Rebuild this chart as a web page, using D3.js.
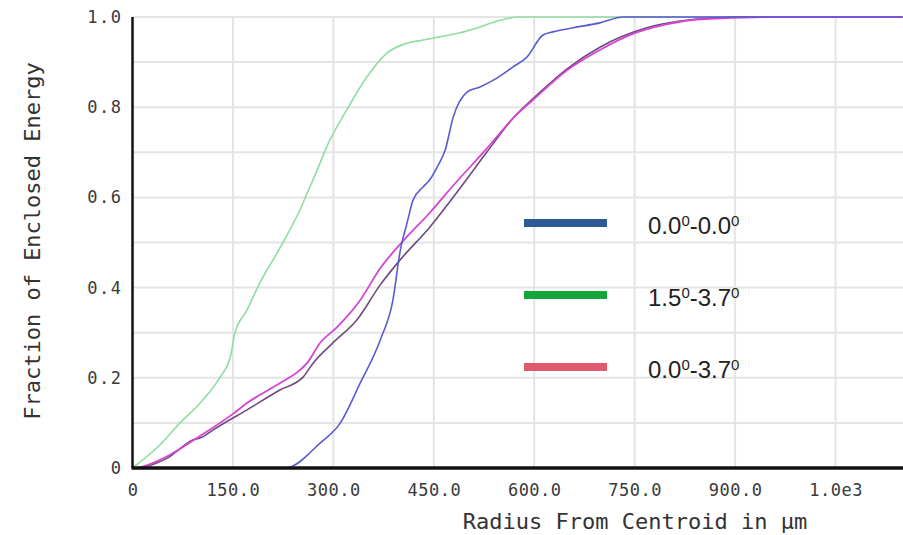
<!DOCTYPE html>
<html>
<head>
<meta charset="utf-8">
<script src="https://cdn.jsdelivr.net/npm/d3@7"></script>
<style>
  body { margin: 0; background: #fff; }
  .tick text { font-family: "DejaVu Sans Mono", monospace; fill: #3a3a3a; }
  .axis-title { font-family: "DejaVu Sans Mono", monospace; fill: #333; font-size: 22px; }
  .legend-text { font-family: "Liberation Sans", Arial, sans-serif; fill: #222; }
</style>
</head>
<body>
<div id="plot-area"></div>
<script>
// tick values / labels
var xTicks = [0, 150, 300, 450, 600, 750, 900, 1050]
var xTickLabels = ["0", "150.0", "300.0", "450.0", "600.0", "750.0", "900.0", "1.0e3"]
var yTicks = [0, 0.2, 0.4, 0.6, 0.8, 1.0]
var yTickLabels = ["0", "0.2", "0.4", "0.6", "0.8", "1.0"]

// curves: [radius, fraction]
var greenCurve = [[0,0],[40,0.05],[71,0.1],[101,0.144],[131,0.202],[146,0.246],[153,0.299],[171,0.35],
  [190,0.41],[216,0.477],[235,0.528],[250,0.572],[261,0.61],[276,0.661],[290,0.712],[320,0.794],
  [350,0.867],[380,0.92],[410,0.942],[434,0.949],[459,0.956],[489,0.965],[519,0.978],[549,0.993],
  [579,1.0],[1150,1.0]]
var blueCurve = [[0,0],[228,0],[235,0.002],[280,0.055],[310,0.099],[340,0.188],[370,0.284],[389,0.373],
  [400,0.483],[410,0.543],[419,0.594],[434,0.623],[444,0.639],[455,0.667],[467,0.705],[479,0.778],
  [500,0.834],[519,0.845],[539,0.86],[568,0.889],[589,0.911],[613,0.96],[628,0.967],[658,0.976],
  [698,0.987],[733,1.0],[1150,1.0]]
var magentaCurve = [[5,0],[15,0.003],[52,0.026],[101,0.071],[150,0.12],[171,0.144],[220,0.188],
  [250,0.217],[261,0.233],[280,0.277],[306,0.313],[340,0.372],[370,0.443],[404,0.503],[444,0.566],
  [480,0.628],[529,0.708],[568,0.775],[598,0.816],[649,0.882],[698,0.927],[748,0.963],[792,0.982],
  [848,0.995],[960,1.0],[1150,1.0]]
var purpleCurve = [[15,0],[52,0.022],[90,0.062],[105,0.069],[120,0.084],[171,0.129],[220,0.173],
  [255,0.202],[270,0.233],[299,0.277],[335,0.328],[370,0.406],[400,0.462],[444,0.534],[490,0.622],
  [529,0.7],[568,0.775],[610,0.835],[649,0.885],[698,0.933],[768,0.976],[818,0.991],[907,1.0],[1150,1.0]]

var legendRanges = [["0.0", "0.0"], ["1.5", "3.7"], ["0.0", "3.7"]]
var legendColors = ["#2b5a96", "#14a63a", "#e05a6f"]

function createPlot() {

    width = 903
    height = 535

    plotSVG = d3.select("#plot-area").append('svg')
        .attr('width', width)
        .attr('height', height)

    xScale = d3.scaleLinear()
        .domain([0, 1150])
        .range([132.5, 902.5])

    yScale = d3.scaleLinear()
        .domain([0, 1])
        .range([468, 17])

    // grid
    var grid = plotSVG.append('g').attr('class', 'grid')
    grid.selectAll('.hgrid')
        .data(d3.range(1, 11).map(function(i){ return i / 10 }))
        .enter().append('line')
        .attr('x1', xScale(0)).attr('x2', width)
        .attr('y1', function(d){ return yScale(d) })
        .attr('y2', function(d){ return yScale(d) })
        .attr('stroke', '#e4e4e4').attr('stroke-width', 2)
    grid.selectAll('.vgrid')
        .data(xTicks.slice(1)).enter().append('line')
        .attr('x1', function(d){ return xScale(d) })
        .attr('x2', function(d){ return xScale(d) })
        .attr('y1', yScale(1)).attr('y2', yScale(0))
        .attr('stroke', '#e4e4e4').attr('stroke-width', 2)

    xAxis = d3.axisBottom(xScale)
        .tickValues(xTicks)
        .tickFormat(function(d, i){ return xTickLabels[i] })
        .tickSize(0).tickPadding(16)
    yAxis = d3.axisLeft(yScale)
        .tickValues(yTicks)
        .tickFormat(function(d, i){ return yTickLabels[i] })
        .tickSize(0).tickPadding(10)

    var gx = plotSVG.append("g")
        .attr("class", "axis x-axis")
        .attr("transform", "translate(0," + yScale(0) + ")")
        .call(xAxis)
    var gy = plotSVG.append("g")
        .attr("class", "axis y-axis")
        .attr("transform", "translate(" + xScale(0) + ",0)")
        .call(yAxis)
    gx.select('.domain').remove()
    gy.select('.domain').remove()
    gx.selectAll('text').attr('font-size', 17).style('letter-spacing', '0.5px')
    gy.selectAll('text').attr('font-size', 17).style('letter-spacing', '1.5px')

    // curves
    var line = d3.line()
        .x(function(d){ return xScale(d[0]) })
        .y(function(d){ return yScale(d[1]) })
        .curve(d3.curveMonotoneX)

    var curves = [
        {pts: greenCurve, color: '#8fdda4', w: 1.6},
        {pts: purpleCurve, color: '#6c4c7e', w: 1.6},
        {pts: magentaCurve, color: '#d544d2', w: 1.8},
        {pts: blueCurve, color: '#5a5ad2', w: 1.6}
    ]
    plotSVG.append('g').selectAll('path')
        .data(curves).enter()
        .append('path')
        .attr('d', function(d){ return line(d.pts) })
        .attr('fill', 'none')
        .attr('stroke', function(d){ return d.color })
        .attr('stroke-width', function(d){ return d.w })

    // axis lines
    plotSVG.append('line')
        .attr('x1', xScale(0)).attr('x2', xScale(0))
        .attr('y1', yScale(1)).attr('y2', yScale(0))
        .attr('stroke', '#111').attr('stroke-width', 2.5)
    plotSVG.append('line')
        .attr('x1', xScale(0) - 1).attr('x2', width)
        .attr('y1', yScale(0)).attr('y2', yScale(0))
        .attr('stroke', '#111').attr('stroke-width', 3.5)

    // legend
    var legend = plotSVG.append('g').attr('class', 'legend')
    legendRanges.forEach(function(r, i){
        var cy = 223 + i * 72
        legend.append('rect')
            .attr('x', 524).attr('y', cy - 4)
            .attr('width', 83).attr('height', 8)
            .attr('fill', legendColors[i])
        var t = legend.append('text')
            .attr('class', 'legend-text')
            .attr('x', 648).attr('y', cy + 11)
            .attr('font-size', 24)
        t.append('tspan').text(r[0])
        t.append('tspan').text('0').attr('font-size', 15).attr('dy', -8)
        t.append('tspan').text('-' + r[1]).attr('dy', 8)
        t.append('tspan').text('0').attr('font-size', 15).attr('dy', -8)
    })

    plotSVG.append("text")
        .attr("class", "axis-title")
        .attr("text-anchor", "middle")
        .attr("transform", "translate(635,529)")
        .text("Radius From Centroid in µm")

    plotSVG.append("text")
        .attr("class", "axis-title")
        .attr("text-anchor", "middle")
        .attr("transform", "translate(40,241) rotate(-90)")
        .text("Fraction of Enclosed Energy")
}

createPlot()
</script>
</body>
</html>
